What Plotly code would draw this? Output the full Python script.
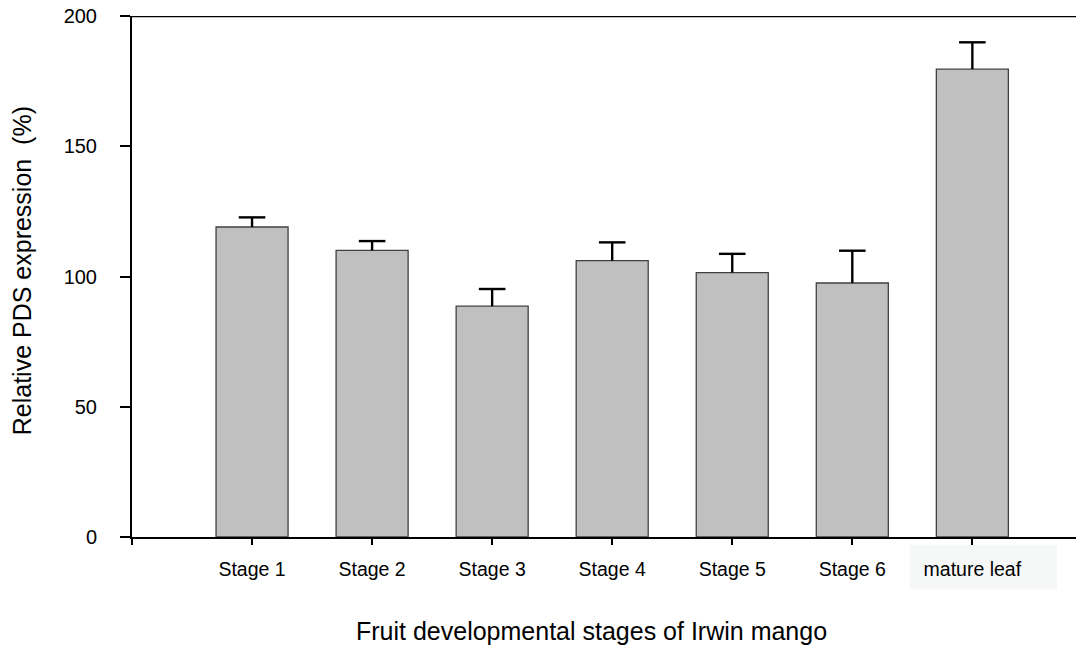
import plotly.graph_objects as go

categories = ["Stage 1", "Stage 2", "Stage 3", "Stage 4", "Stage 5", "Stage 6", "mature leaf"]
positions = [1, 2, 3, 4, 5, 6, 7]
values = [119.0, 110.0, 88.6, 106.1, 101.5, 97.5, 179.6]
errors = [3.7, 3.6, 6.6, 7.0, 7.2, 12.4, 10.3]
y_ticks = [0, 50, 100, 150, 200]

FONT = "Liberation Sans, Arial, sans-serif"

tops = [v + e for v, e in zip(values, errors)]

fig = go.Figure()
fig.add_trace(go.Bar(
    x=positions, y=values, width=0.6,
    marker=dict(color="#c0c0c0", line=dict(color="#404040", width=1.3)),
    showlegend=False, hoverinfo="skip",
))
# upward-only error bars: stem via error_y (no caps), cap via horizontal line marker
fig.add_trace(go.Scatter(
    x=positions, y=tops, mode="markers",
    marker=dict(symbol="line-ew", size=19, color="black", line=dict(color="black", width=2.4)),
    error_y=dict(type="data", array=[0]*len(errors), arrayminus=errors, symmetric=False,
                 color="black", thickness=2.4, width=0),
    showlegend=False,
))

fig.update_layout(
    width=1076, height=640,
    margin=dict(l=124, r=0, t=7.5, b=111, autoexpand=False),
    paper_bgcolor="white", plot_bgcolor="white",
    font=dict(family=FONT, color="black"),
    xaxis=dict(
        range=[0, 7.93], tickmode="array",
        tickvals=[0] + positions, ticktext=[""] + categories,
        showline=True, linecolor="black", linewidth=2,
        ticks="outside", ticklen=6, tickwidth=2, tickcolor="black",
        tickfont=dict(size=19.5, family=FONT, color="black"),
        ticklabelstandoff=8, automargin=False,
        showgrid=False, zeroline=False, fixedrange=True,
    ),
    yaxis=dict(
        range=[0, 200], tickmode="array", tickvals=y_ticks,
        showline=True, linecolor="black", linewidth=2,
        ticks="outside", ticklen=10, tickwidth=2, tickcolor="black",
        tickfont=dict(size=20, family=FONT, color="black"),
        ticklabelstandoff=19, ticklabeloverflow="allow", automargin=False,
        showgrid=False, zeroline=False, fixedrange=True,
    ),
    shapes=[
        dict(type="line", xref="paper", yref="y", x0=0, x1=1, y0=200, y1=200,
             line=dict(color="black", width=2.5)),
        dict(type="rect", xref="paper", yref="paper", x0=0.817, x1=0.9716, y0=-0.0147, y1=-0.1005,
             fillcolor="#f6f8f7", line=dict(width=0), layer="below"),
    ],
    annotations=[
        dict(text="Fruit developmental stages of Irwin mango", xref="paper", yref="paper",
             x=0.483, y=-0.18, xanchor="center", yanchor="middle", showarrow=False,
             font=dict(size=25, family=FONT, color="black")),
        dict(text="Relative PDS expression  (%)", xref="paper", yref="paper",
             x=(22 - 132) / 952, y=0.51, xanchor="center", yanchor="middle", showarrow=False,
             textangle=-90, font=dict(size=25, family=FONT, color="black")),
    ],
)

fig.write_html("out.html")
